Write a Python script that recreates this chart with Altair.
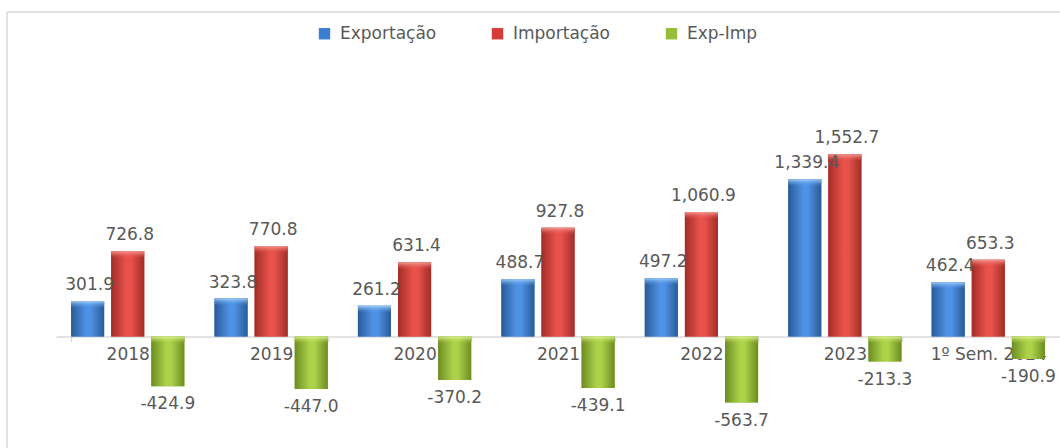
import altair as alt
import pandas as pd

categories = ["2018", "2019", "2020", "2021", "2022", "2023", "1º Sem. 2024"]
series = ["Exportação", "Importação", "Exp-Imp"]
exportacao = [301.9, 323.8, 261.2, 488.7, 497.2, 1339.4, 462.4]
importacao = [726.8, 770.8, 631.4, 927.8, 1060.9, 1552.7, 653.3]
exp_imp = [-424.9, -447.0, -370.2, -439.1, -563.7, -213.3, -190.9]
colors = ["#3b7dd0", "#d63c36", "#98bd38"]
edge_colors = ["#2a5a98", "#a22c28", "#6c8c22"]
mid_colors = ["#4d92e4", "#e8524b", "#acd24a"]
cap_colors = ["rgba(170,212,252,0.9)", "rgba(247,160,155,0.9)", "rgba(226,246,150,0.9)"]
cap_fade = ["rgba(77,146,228,0)", "rgba(232,82,75,0)", "rgba(172,210,74,0)"]

rows = []
for s, vals in zip(series, [exportacao, importacao, exp_imp]):
    for c, v in zip(categories, vals):
        rows.append({"cat": c, "series": s, "value": v, "label": f"{v:,.1f}"})
df = pd.DataFrame(rows)

FONT = "DejaVu Sans"
GRAY = "#595959"
Y_DOMAIN = [-882.4, 2357]

x_enc = alt.X(
    "cat:N",
    sort=categories,
    scale=alt.Scale(paddingInner=0.21, paddingOuter=0.105),
    axis=alt.Axis(
        title=None,
        orient="bottom",
        offset=-103.5,
        domainColor="#d9d9d9",
        domainWidth=1.5,
        tickColor="#d9d9d9",
        tickWidth=1.5,
        tickSize=5,
        tickBand="extent",
        labelFont=FONT,
        labelFontSize=17,
        labelColor=GRAY,
        labelPadding=5,
        labelAngle=0,
        labelOverlap=False,
    ),
)
xoff_enc = alt.XOffset("series:N", sort=series,
                       scale=alt.Scale(domain=series, paddingInner=0.175, paddingOuter=0))
y_enc = alt.Y("value:Q", scale=alt.Scale(domain=Y_DOMAIN, nice=False, zero=False), axis=None)

base = alt.Chart(df)

bars = base.mark_bar().encode(
    x=x_enc,
    xOffset=xoff_enc,
    y=y_enc,
    y2=alt.datum(0),
    color=alt.Color(
        "series:N",
        sort=series,
        scale=alt.Scale(domain=series, range=colors),
        legend=alt.Legend(
            title=None,
            orient="none",
            legendX=260,
            legendY=-35,
            direction="horizontal",
            symbolType="square",
            symbolSize=130,
            symbolStrokeWidth=0,
            labelFont=FONT,
            labelFontSize=17,
            labelColor=GRAY,
            columnPadding=52,
            labelOffset=7,
            padding=0,
        ),
    ),
)

grad_layers = []
for i, (s, e, m, cap, fade) in enumerate(zip(series, edge_colors, mid_colors, cap_colors, cap_fade)):
    g = alt.Gradient(
        gradient="linear",
        stops=[
            alt.GradientStop(color=e, offset=0),
            alt.GradientStop(color=m, offset=0.45),
            alt.GradientStop(color=m, offset=0.6),
            alt.GradientStop(color=e, offset=1),
        ],
        x1=0, x2=1, y1=0, y2=0,
    )
    grad_layers.append(
        base.transform_filter(alt.datum.series == s)
        .mark_bar(fill=g)
        .encode(x=x_enc, xOffset=xoff_enc, y=y_enc, y2=alt.datum(0))
    )
    cg = alt.Gradient(
        gradient="linear",
        stops=[
            alt.GradientStop(color=cap, offset=0),
            alt.GradientStop(color=fade, offset=1),
        ],
        x1=0, x2=0, y1=0, y2=1,
    )
    if i < 2:
        cap_layer = (
            base.transform_filter(alt.datum.series == s)
            .mark_bar(fill=cg, y2Offset=7)
            .encode(x=x_enc, xOffset=xoff_enc, y=y_enc, y2=alt.Y2("value:Q"))
        )
    else:
        cap_layer = (
            base.transform_filter(alt.datum.series == s)
            .mark_bar(fill=cg, y2Offset=7)
            .encode(
                x=x_enc,
                xOffset=xoff_enc,
                y=alt.Y(datum=0, scale=alt.Scale(domain=Y_DOMAIN, nice=False, zero=False), axis=None),
                y2=alt.datum(0),
            )
        )
    grad_layers.append(cap_layer)

pos_text = base.transform_filter(alt.datum.value >= 0).mark_text(
    dy=-16, dx=2, baseline="middle", font=FONT, fontSize=17, color=GRAY
).encode(x=x_enc, xOffset=xoff_enc, y=y_enc, text="label:N")

neg_text = base.transform_filter(alt.datum.value < 0).mark_text(
    dy=18, baseline="middle", font=FONT, fontSize=17, color=GRAY
).encode(x=x_enc, xOffset=xoff_enc, y=y_enc, text="label:N")

one = alt.Chart(pd.DataFrame({"a": [0]}))
frame_top = one.mark_rule(color="#d9d9d9", strokeWidth=1.5).encode(
    x=alt.value(-49), x2=alt.value(1004), y=alt.value(-48)
)
frame_left = one.mark_rule(color="#d9d9d9", strokeWidth=1.5).encode(
    x=alt.value(-49), y=alt.value(-48), y2=alt.value(400)
)

chart = alt.layer(
    frame_top, frame_left, bars, *grad_layers, pos_text, neg_text
).properties(
    width=1004,
    height=380,
    autosize=alt.AutoSizeParams(type="none"),
    padding={"left": 56, "top": 60, "right": 0, "bottom": 8},
    background="white",
).configure_view(stroke=None)

chart.save("out.html", embed_options={"renderer": "svg", "actions": False})
